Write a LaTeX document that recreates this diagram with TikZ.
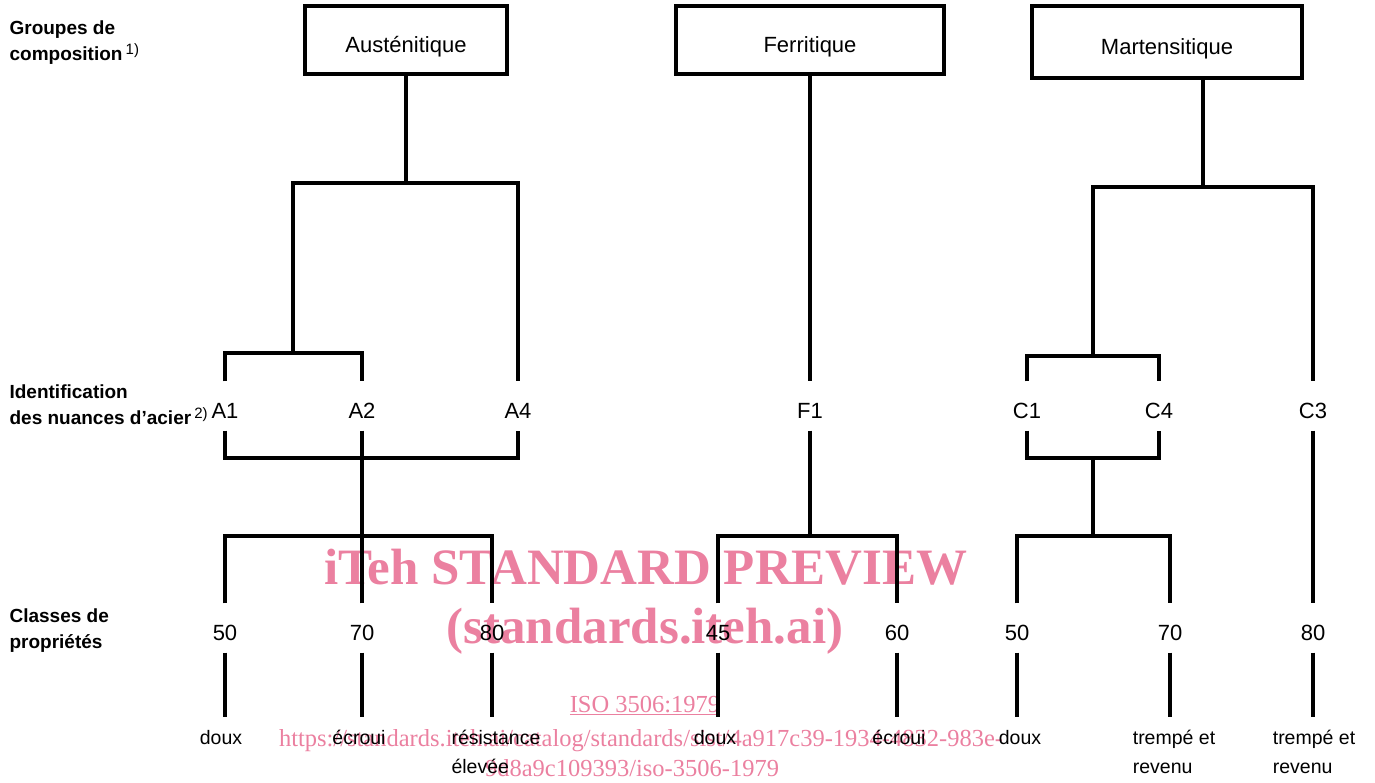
\documentclass[tikz,border=0pt]{standalone}
\usepackage{fontspec}
\setmainfont{Liberation Sans}
\newfontfamily\wmfont{Liberation Serif}
\usepackage{xcolor}
\usetikzlibrary{positioning,calc}
\definecolor{wmpink}{RGB}{235,128,160}
\newcommand\rnote[1]{\,\raisebox{6pt}{\mdseries\fontsize{15}{15}\selectfont #1}}

\begin{document}
\begin{tikzpicture}[x=1pt, y=-1pt, line width=3.2pt,
    group/.style={draw, minimum height=68pt, inner sep=0pt, text height=24pt, text depth=0pt, font=\fontsize{22}{26}\selectfont},
    grade/.style={anchor=base, inner sep=0pt, text height=35pt, text depth=11pt, font=\fontsize{22}{26}\selectfont},
    prop/.style={anchor=north, inner xsep=0pt, inner ysep=12pt, align=left, font=\fontsize{19.5}{29}\selectfont},
    side/.style={anchor=north west, inner sep=0pt, align=left, font=\bfseries\fontsize{19}{26}\selectfont},
    wmark/.style={text=wmpink, inner sep=0pt, anchor=base, font=\wmfont\fontsize{24.5}{28}\selectfont}]
    \useasboundingbox (0,0) rectangle (1375,782);

    \node [wmark, font=\wmfont\bfseries\fontsize{51}{55}\selectfont] (wm1) at (646,584) {iTeh STANDARD PREVIEW};
    \node [wmark, font=\wmfont\bfseries\fontsize{51}{55}\selectfont] (wm2) at (645,643) {(standards.iteh.ai)};
    \node [wmark] (wm3) at (645,712) {\underline{ISO 3506:1979}};
    \node [wmark] (wm4) at (641,746) {https://standards.iteh.ai/catalog/standards/sist/4a917c39-1934-4832-983e-};
    \node [wmark] (wm5) at (632,776) {9d8a9c109393/iso-3506-1979};

    \node [side] (groupes) at (8,19) {Groupes de\\composition\rnote{1)}};
    \node [side] (ident) at (8,383) {Identification\\des nuances d'acier\rnote{2)}};
    \node [side] (classes) at (8,607) {Classes de\\propriétés};

    \node [group, minimum width=202pt] (aus) at (406,40) {Austénitique};
    \node [group, minimum width=268pt] (fer) at (810,40) {Ferritique};
    \node [group, minimum width=270pt, minimum height=72pt] (mar) at (1167,42) {Martensitique};

    \coordinate (jAus) at (406,183);
    \coordinate (jA12) at (293,353);
    \coordinate (kA) at (362,458);
    \coordinate (mA) at (362,536);
    \coordinate (mF) at (810,536);
    \coordinate (jM) at (1203,187);
    \coordinate (jC) at (1093,356);
    \coordinate (kC) at (1093,458);
    \coordinate (mC) at (1093,536);

    \node [grade] (A1) at (225,418) {A1};
    \node [grade] (A2) at (362,418) {A2};
    \node [grade] (A4) at (518,418) {A4};
    \node [grade] (F1) at (810,418) {F1};
    \node [grade] (C1) at (1027,418) {C1};
    \node [grade] (C4) at (1159,418) {C4};
    \node [grade] (C3) at (1313,418) {C3};

    \node [grade] (c50a) at (225,640) {50};
    \node [grade] (c70a) at (362,640) {70};
    \node [grade] (c80a) at (492,640) {80};
    \node [grade] (c45) at (718,640) {45};
    \node [grade] (c60) at (897,640) {60};
    \node [grade] (c50m) at (1017,640) {50};
    \node [grade] (c70m) at (1170,640) {70};
    \node [grade] (c80m) at (1313,640) {80};

    \node [prop] (douxA) at (221,717) {doux};
    \node [prop] (ecrouiA) at (359,717) {écroui};
    \node [prop] (resist) at (496,717) {résistance\\élevée};
    \node [prop] (douxF) at (715,717) {doux};
    \node [prop] (ecrouiF) at (899,717) {écroui};
    \node [prop] (douxM) at (1020,717) {doux};
    \node [prop] (trempeA) at (1174,717) {trempé et\\revenu};
    \node [prop] (trempeB) at (1314,717) {trempé et\\revenu};

    \draw (aus.south) -- (jAus);
    \draw (jA12) |- (jAus) -| (A4.north);
    \draw (A1.north) |- (jA12) -| (A2.north);
    \draw (A1.south) |- (kA) -| (A4.south);
    \draw (A2.south) -- (mA);
    \draw (c50a.north) |- (mA) -| (c80a.north);
    \draw (c70a.north) -- (mA);

    \draw (fer.south) -- (F1.north);
    \draw (F1.south) -- (mF);
    \draw (c45.north) |- (mF) -| (c60.north);

    \draw (mar.south -| jM) -- (jM);
    \draw (jC) |- (jM) -| (C3.north);
    \draw (C1.north) |- (jC) -| (C4.north);
    \draw (C1.south) |- (kC) -| (C4.south);
    \draw (kC) -- (mC);
    \draw (c50m.north) |- (mC) -| (c70m.north);
    \draw (C3.south) -- (c80m.north);

    \draw (c50a.south) -- (c50a.south |- douxA.north);
    \draw (c70a.south) -- (c70a.south |- ecrouiA.north);
    \draw (c80a.south) -- (c80a.south |- resist.north);
    \draw (c45.south) -- (c45.south |- douxF.north);
    \draw (c60.south) -- (c60.south |- ecrouiF.north);
    \draw (c50m.south) -- (c50m.south |- douxM.north);
    \draw (c70m.south) -- (c70m.south |- trempeA.north);
    \draw (c80m.south) -- (c80m.south |- trempeB.north);
\end{tikzpicture}
\end{document}
